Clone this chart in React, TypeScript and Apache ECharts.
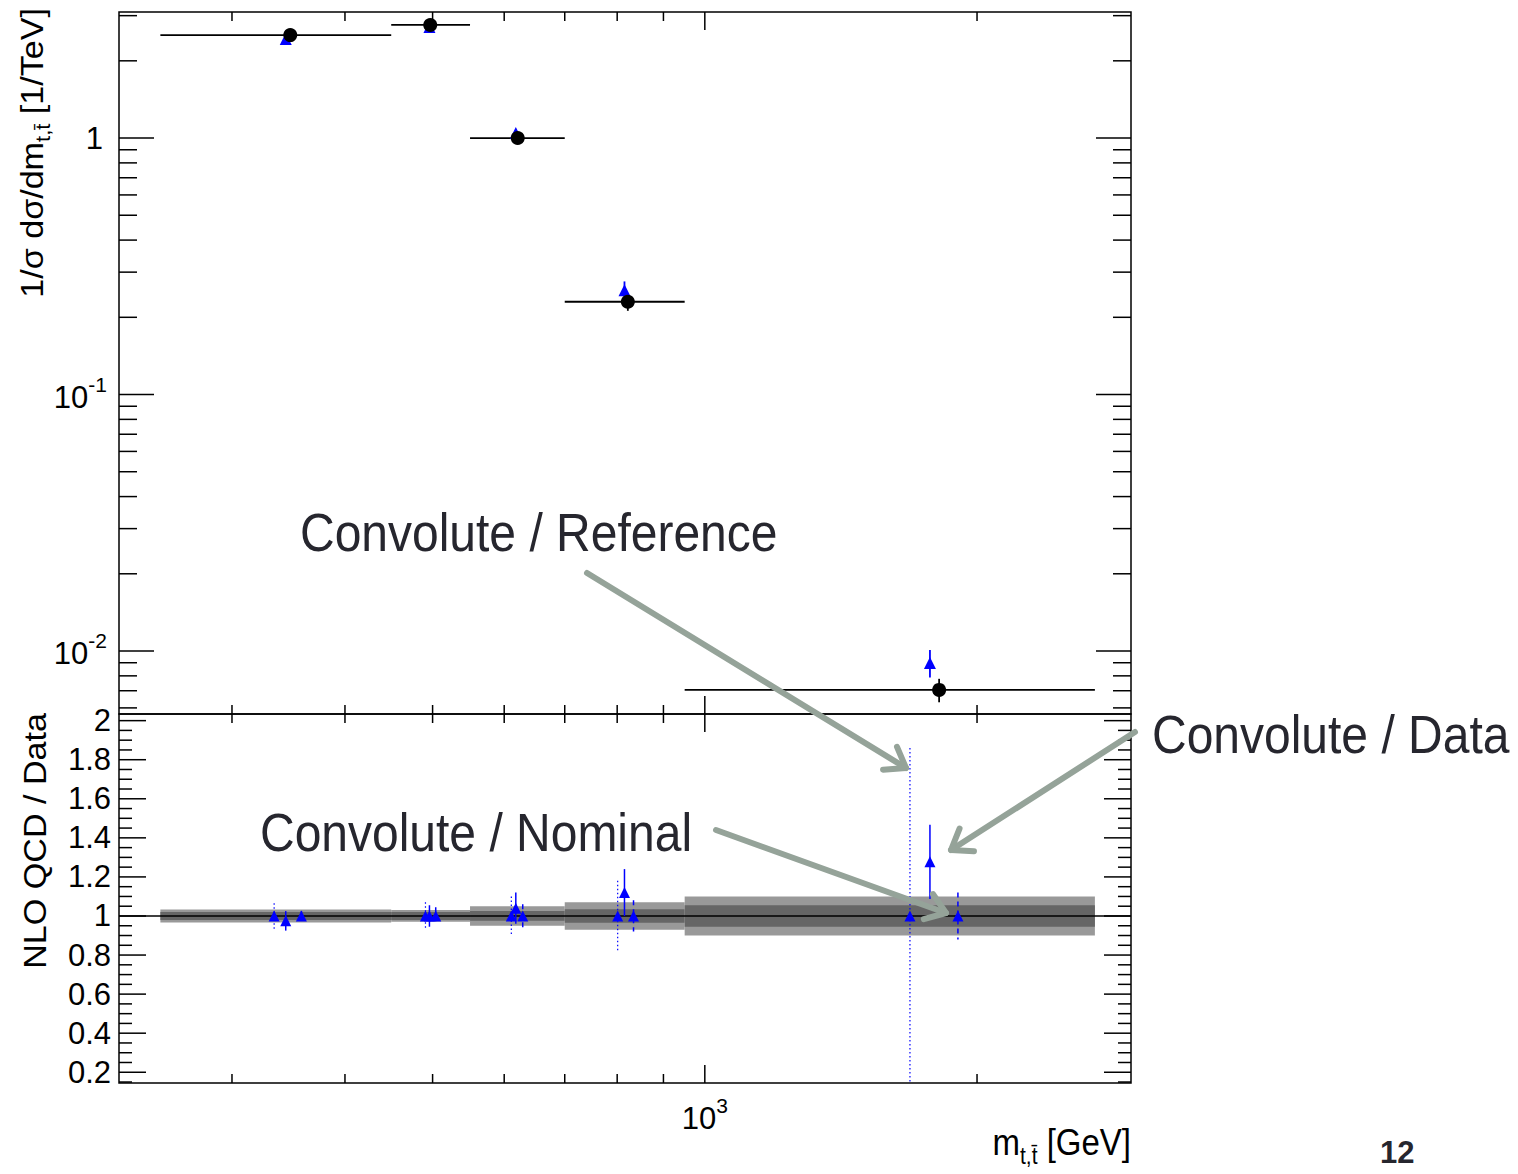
import React, { useEffect, useRef } from 'react';
import * as echarts from 'echarts';

const FONT = '"Liberation Sans", Arial, Helvetica, sans-serif';

// ---------- axis ranges ----------
const xMin = 225;
const xMax = 2960;
const topYMin = 0.00568;
const topYMax = 3.1;
const botYMin = 0.145;
const botYMax = 2.034;

// ---------- top panel data ----------
const binLow = [250, 450, 550, 700, 950];
const binHigh = [450, 550, 700, 950, 2700];
const dataX = [348, 497, 621, 822, 1816];
const dataY = [2.52, 2.76, 1.0, 0.23, 0.00705];
const dataErr = [0.05, 0.05, 0.02, 0.018, 0.00074];
const convX = [344, 496, 618, 815, 1774];
const convY = [2.43, 2.71, 1.046, 0.255, 0.00898];
const convErr = [0.05, 0.05, 0.03, 0.021, 0.0011];

// ---------- ratio panel data ----------
const bandOuter = [0.033, 0.03, 0.05, 0.07, 0.1];
const bandInner = [0.02, 0.02, 0.025, 0.035, 0.055];
const ratioRef = 1;
const refX = [334, 491, 611, 801, 1686];
const refRatio = [1.0, 1.0, 1.0, 1.0, 1.0];
const refErr = [0.065, 0.07, 0.1, 0.18, 0.86];
const dataRatio = [0.975, 1.0, 1.04, 1.12, 1.277];
const dataRatioErr = [0.05, 0.055, 0.08, 0.12, 0.19];
const nomX = [358, 504, 629, 834, 1905];
const nomRatio = [1.0, 1.0, 1.0, 1.0, 1.0];
const nomErr = [0.025, 0.045, 0.06, 0.08, 0.12];

// ---------- ticks and labels ----------
const xMajorTicks = [1000];
const xMinorTicks = [300, 400, 500, 600, 700, 800, 900, 2000];
const xLabelExp = [3];
const topYMajorTicks = [0.01, 0.1, 1];
const topYMinorTicks = [0.006, 0.007, 0.008, 0.009, 0.02, 0.03, 0.04, 0.05, 0.06, 0.07, 0.08, 0.09,
  0.2, 0.3, 0.4, 0.5, 0.6, 0.7, 0.8, 0.9, 2, 3];
const topYLabelExp = [-2, -1, 0];
const botYMajorTicks = [0.2, 0.4, 0.6, 0.8, 1.0, 1.2, 1.4, 1.6, 1.8, 2.0];
const botYMinorTicks = [0.15, 0.25, 0.3, 0.35, 0.45, 0.5, 0.55, 0.65, 0.7, 0.75, 0.85, 0.9, 0.95,
  1.05, 1.1, 1.15, 1.25, 1.3, 1.35, 1.45, 1.5, 1.55, 1.65, 1.7, 1.75, 1.85, 1.9, 1.95];
const botYLabels = ['0.2', '0.4', '0.6', '0.8', '1', '1.2', '1.4', '1.6', '1.8', '2'];

const BLUE = '#0000ff';
const ARROW = '#95a399';
const ANNOT = '#26262e';

let measureCtx: CanvasRenderingContext2D | null = null;
function textW(t: string, size: number, weight = 'normal') {
  if (!measureCtx) measureCtx = document.createElement('canvas').getContext('2d');
  if (!measureCtx) return t.length * size * 0.55;
  measureCtx.font = `${weight} ${size}px ${FONT}`;
  return measureCtx.measureText(t).width;
}

function txt(text: string, x: number, y: number, size: number, align: string, extra: any = {}) {
  return {
    type: 'text',
    style: {
      text, x, y, fontSize: size, fontFamily: FONT, fill: '#000',
      align, textAlign: align, verticalAlign: 'middle', textVerticalAlign: 'middle', ...extra,
    },
  };
}

function tickSeries(g: number, axis: 'x' | 'y', values: number[], ref: number, len: number) {
  return {
    type: 'custom', xAxisIndex: g, yAxisIndex: g, silent: true, z: 6,
    data: values.map((v) => (axis === 'x' ? [v, ref] : [ref, v])),
    renderItem: (params: any, api: any) => {
      const cs = params.coordSys;
      const p = api.coord([api.value(0), api.value(1)]);
      const st = { stroke: '#000', lineWidth: 1.5 };
      if (axis === 'x') {
        const x = p[0];
        const yb = cs.y + cs.height;
        const yt = cs.y;
        return {
          type: 'group', children: [
            { type: 'line', shape: { x1: x, y1: yb, x2: x, y2: yb - len }, style: st },
            { type: 'line', shape: { x1: x, y1: yt, x2: x, y2: yt + len }, style: st },
          ],
        };
      }
      const y = p[1];
      const xl = cs.x;
      const xr = cs.x + cs.width;
      return {
        type: 'group', children: [
          { type: 'line', shape: { x1: xl, y1: y, x2: xl + len, y2: y }, style: st },
          { type: 'line', shape: { x1: xr, y1: y, x2: xr - len, y2: y }, style: st },
        ],
      };
    },
  };
}

const LBL = 31;
const SUP = 21;

function topYLabelSeries() {
  return {
    type: 'custom', xAxisIndex: 0, yAxisIndex: 0, silent: true, z: 6,
    data: topYMajorTicks.map((v, i) => [1000, v, topYLabelExp[i]]),
    renderItem: (params: any, api: any) => {
      const cs = params.coordSys;
      const p = api.coord([api.value(0), api.value(1)]);
      const e = api.value(2);
      if (e === 0) return txt('1', cs.x - 16, p[1], LBL, 'right');
      const es = String(e);
      const xr = cs.x - 12;
      const we = textW(es, SUP);
      return {
        type: 'group', children: [
          txt('10', xr - we, p[1] + 3, LBL, 'right'),
          txt(es, xr, p[1] - 10, SUP, 'right'),
        ],
      };
    },
  };
}

function xLabelSeries() {
  return {
    type: 'custom', xAxisIndex: 1, yAxisIndex: 1, silent: true, z: 6,
    data: xMajorTicks.map((v, i) => [v, 1, xLabelExp[i]]),
    renderItem: (params: any, api: any) => {
      const cs = params.coordSys;
      const p = api.coord([api.value(0), api.value(1)]);
      const es = String(api.value(2));
      const wb = textW('10', LBL);
      const we = textW(es, SUP);
      const left = p[0] - (wb + we) / 2;
      const y = cs.y + cs.height + 35;
      return {
        type: 'group', children: [
          txt('10', left, y, LBL, 'left'),
          txt(es, left + wb, y - 13, SUP, 'left'),
        ],
      };
    },
  };
}

function botYLabelSeries() {
  return {
    type: 'custom', xAxisIndex: 1, yAxisIndex: 1, silent: true, z: 6,
    data: botYMajorTicks.map((v) => [1000, v]),
    renderItem: (params: any, api: any) => {
      const cs = params.coordSys;
      const p = api.coord([api.value(0), api.value(1)]);
      return txt(botYLabels[params.dataIndex], cs.x - 8, p[1], LBL, 'right');
    },
  };
}

function errSeries(g: number, xs: number[], ys: number[], errs: number[], color: string, dash: number[] | null, width = 1.5) {
  return {
    type: 'custom', xAxisIndex: g, yAxisIndex: g, silent: true, z: 3,
    data: xs.map((x, i) => [x, ys[i], errs[i]]),
    encode: { x: 0, y: 1 },
    renderItem: (params: any, api: any) => {
      const x = api.value(0);
      const y = api.value(1);
      const e = api.value(2);
      const cs = params.coordSys;
      const up = api.coord([x, y + e]);
      const lowV = y - e;
      const dn = lowV <= 0 ? [up[0], cs.y + cs.height] : api.coord([x, lowV]);
      const yTop = Math.max(up[1], cs.y);
      const yBot = Math.min(dn[1], cs.y + cs.height);
      const style: any = { stroke: color, lineWidth: width };
      if (dash) style.lineDash = dash;
      return { type: 'line', shape: { x1: up[0], y1: yTop, x2: up[0], y2: yBot }, style };
    },
  };
}

function scatterSeries(g: number, xs: number[], ys: number[], symbol: string, size: number, color: string) {
  return {
    type: 'scatter', xAxisIndex: g, yAxisIndex: g, silent: true, z: 4,
    symbol, symbolSize: size,
    itemStyle: { color, opacity: 1 },
    data: xs.map((x, i) => [x, ys[i]]),
  };
}

function arrow(x0: number, y0: number, x1: number, y1: number) {
  const ang = Math.atan2(y1 - y0, x1 - x0) + Math.PI;
  const L = 23;
  const a = 0.62;
  const w1 = [x1 + L * Math.cos(ang + a), y1 + L * Math.sin(ang + a)];
  const w2 = [x1 + L * Math.cos(ang - a), y1 + L * Math.sin(ang - a)];
  const st = { stroke: ARROW, lineWidth: 6, lineCap: 'round', lineJoin: 'round', fill: null };
  return [
    { type: 'polyline', shape: { points: [[x0, y0], [x1, y1]] }, style: st, z: 100 },
    { type: 'polyline', shape: { points: [w1, [x1, y1], w2] }, style: st, z: 100 },
  ];
}

function annot(text: string, x: number, y: number, size: number, weight = 'normal', sy = 1.1) {
  return {
    type: 'text', x, y, scaleY: sy, z: 100,
    style: {
      text, x: 0, y: 0, fontSize: size, fontFamily: FONT, fontWeight: weight, fill: ANNOT,
      align: 'left', textAlign: 'left', verticalAlign: 'middle', textVerticalAlign: 'middle',
    },
  };
}

// rotated title built from pieces [text, size, offsetAcross]
function rotatedTitle(pieces: [string, number, number][], cx: number, yEnd: number, stretch: number) {
  const widths = pieces.map((p) => textW(p[0], p[1]));
  const total = widths.reduce((a, b) => a + b, 0);
  let pos = -total;
  const children = pieces.map((p, i) => {
    const el = txt(p[0], pos, p[2], p[1], 'left');
    pos += widths[i];
    return el;
  });
  return {
    type: 'group', x: cx, y: yEnd, rotation: Math.PI / 2, scaleX: stretch, z: 100,
    children,
  };
}

function hTitle(pieces: [string, number, number][], xRight: number, y: number) {
  const widths = pieces.map((p) => textW(p[0], p[1]));
  const total = widths.reduce((a, b) => a + b, 0);
  let pos = -total;
  const children = pieces.map((p, i) => {
    const el = txt(p[0], pos, p[2], p[1], 'left');
    pos += widths[i];
    return el;
  });
  return { type: 'group', x: xRight, y, scaleY: 1.1, z: 100, children };
}

function buildOption() {
  const gridCommon = { left: 119, width: 1012, show: true, borderColor: '#000', borderWidth: 1.5, backgroundColor: 'transparent' };
  return {
    animation: false,
    backgroundColor: '#ffffff',
    grid: [
      { ...gridCommon, top: 12, height: 702 },
      { ...gridCommon, top: 714, height: 369 },
    ],
    xAxis: [
      { gridIndex: 0, type: 'log', min: xMin, max: xMax, show: false },
      { gridIndex: 1, type: 'log', min: xMin, max: xMax, show: false },
    ],
    yAxis: [
      { gridIndex: 0, type: 'log', min: topYMin, max: topYMax, show: false },
      { gridIndex: 1, type: 'value', min: botYMin, max: botYMax, show: false },
    ],
    series: [
      // ----- top panel: data with bin widths -----
      {
        type: 'custom', xAxisIndex: 0, yAxisIndex: 0, silent: true, z: 3,
        data: binLow.map((lo, i) => [lo, binHigh[i], dataX[i], dataY[i], dataErr[i]]),
        encode: { x: [0, 1, 2], y: [3] },
        renderItem: (params: any, api: any) => {
          const y = api.value(3);
          const e = api.value(4);
          const a = api.coord([api.value(0), y]);
          const b = api.coord([api.value(1), y]);
          const up = api.coord([api.value(2), y + e]);
          const dn = api.coord([api.value(2), y - e]);
          const st = { stroke: '#000', lineWidth: 1.8 };
          return {
            type: 'group', children: [
              { type: 'line', shape: { x1: a[0], y1: a[1], x2: b[0], y2: b[1] }, style: st },
              { type: 'line', shape: { x1: up[0], y1: up[1], x2: dn[0], y2: dn[1] }, style: st },
            ],
          };
        },
      },
      errSeries(0, convX, convY, convErr, BLUE, null, 1.8),
      scatterSeries(0, convX, convY, 'triangle', 12, BLUE),
      scatterSeries(0, dataX, dataY, 'circle', 14, '#000'),

      // ----- ratio panel: uncertainty bands -----
      {
        type: 'custom', xAxisIndex: 1, yAxisIndex: 1, silent: true, z: 2,
        data: binLow.map((lo, i) => [lo, binHigh[i], bandOuter[i], bandInner[i]]),
        encode: { x: [0, 1], y: [2] },
        renderItem: (params: any, api: any) => {
          const lo = api.value(0);
          const hi = api.value(1);
          const o = api.value(2);
          const n = api.value(3);
          const a = api.coord([lo, ratioRef + o]);
          const b = api.coord([hi, ratioRef - o]);
          const c = api.coord([lo, ratioRef + n]);
          const d = api.coord([hi, ratioRef - n]);
          return {
            type: 'group', children: [
              { type: 'rect', shape: { x: a[0], y: a[1], width: b[0] - a[0], height: b[1] - a[1] }, style: { fill: '#999999' } },
              { type: 'rect', shape: { x: c[0], y: c[1], width: d[0] - c[0], height: d[1] - c[1] }, style: { fill: '#666666' } },
            ],
          };
        },
        markLine: {
          silent: true, symbol: 'none', z: 3,
          label: { show: false },
          lineStyle: { color: '#000', width: 1.5, type: 'solid' },
          data: [{ yAxis: ratioRef }],
        },
      },
      errSeries(1, refX, refRatio, refErr, BLUE, [1.5, 2.5], 1.2),
      errSeries(1, convX, dataRatio, dataRatioErr, BLUE, null, 1.5),
      errSeries(1, nomX, nomRatio, nomErr, BLUE, [5, 4], 1.5),
      scatterSeries(1, refX, refRatio, 'triangle', 11, BLUE),
      scatterSeries(1, convX, dataRatio, 'triangle', 11, BLUE),
      scatterSeries(1, nomX, nomRatio, 'triangle', 11, BLUE),

      // ----- ticks -----
      tickSeries(0, 'x', xMajorTicks, 1, 18),
      tickSeries(0, 'x', xMinorTicks, 1, 9),
      tickSeries(0, 'y', topYMajorTicks, 1000, 35),
      tickSeries(0, 'y', topYMinorTicks, 1000, 18),
      tickSeries(1, 'x', xMajorTicks, 1, 18),
      tickSeries(1, 'x', xMinorTicks, 1, 9),
      tickSeries(1, 'y', botYMajorTicks, 1000, 27),
      tickSeries(1, 'y', botYMinorTicks, 1000, 13),

      // ----- labels -----
      topYLabelSeries(),
      botYLabelSeries(),
      xLabelSeries(),
    ],
    graphic: [
      ...arrow(587, 573, 906, 768),
      ...arrow(1135, 732, 951, 850),
      ...arrow(716, 830, 946, 913),
      annot('Convolute / Reference', 300, 533, 48),
      annot('Convolute / Nominal', 260, 833, 48),
      annot('Convolute / Data', 1152, 735, 48),
      annot('12', 1380, 1152, 31, 'bold', 1),
      rotatedTitle([
        ['1/σ dσ/dm', 31, 0],
        ['t,t\u0304', 20, 10],
        [' [1/TeV]', 31, 0],
      ], 33, 8, 1.1),
      rotatedTitle([['NLO QCD / Data', 31, 0]], 36, 713, 1.1),
      hTitle([
        ['m', 33, 0],
        ['t,t\u0304', 21, 13],
        [' [GeV]', 33, 0],
      ], 1131, 1142),
    ],
  };
}

export default function App() {
  const ref = useRef<HTMLDivElement>(null);
  useEffect(() => {
    if (!ref.current) return;
    const chart = echarts.init(ref.current, null, { renderer: 'svg' });
    chart.setOption(buildOption() as any);
    return () => chart.dispose();
  }, []);
  return (
    <div
      ref={ref}
      style={{ position: 'absolute', left: 0, top: 0, width: 1518, height: 1174, background: '#fff' }}
    />
  );
}
